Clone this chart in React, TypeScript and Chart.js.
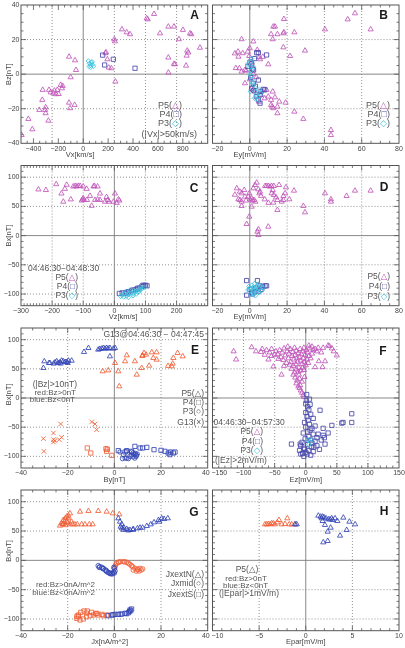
import React, { useEffect, useRef } from 'react';
import { Chart, registerables } from 'chart.js';
Chart.register(...registerables);

type Pt = [number, number];

// ---------------- data ----------------
const A_P5: Pt[] = [[569,34.8],[518,31.7],[510,32.3],[311,25.9],[349,24.2],[376,23.1],[250,20.2],[255,19],[183,12.6],[178,12.1],[-114,10.1],[-66,8],[194,8.6],[226,3.4],[205,3.8],[258,-4.3],[617,23.6],[684,27.5],[729,27.5],[801,25.6],[858,23.6],[868,23.1],[769,20.2],[938,15.3],[836,13.6],[844,12.5],[831,10.7],[684,9.6],[729,5.9],[737,5.7],[826,4.9],[684,0.9],[-58,2.4],[-101,-1.8],[-181,-6.2],[-165,-6.8],[-171,-8.2],[-208,-9.1],[-232,-9.5],[-275,-9.1],[-326,-9.1],[-240,-11.1],[-219,-11.6],[-262,-10.5],[-197,-11.5],[-329,-14.9],[-302,-19.2],[-307,-20.7],[-302,-22.6],[-353,-20.7],[-280,-26.9],[-409,-31.9],[-441,-25.9],[-495,-35.2],[-114,-16.5],[-106,-19.7],[-69,-17.8]];
const A_P4: Pt[] = [[156,11],[242,8.6],[172,5.3],[416,3.4]];
const A_P3: Pt[] = [[41,7.6],[50,6.2],[58,5.2],[66,6.8],[74,5.6],[82,4.6],[48,4.4],[60,4],[70,7.2]];

const B_P5: Pt[] = [[56.4,35.2],[52.5,31.7],[64.8,25.9],[40.3,25.9],[12.6,27.5],[13.5,27.5],[18.3,31.9],[11.4,23.1],[14.8,23.1],[18,23.6],[18.3,24.2],[23.9,24.2],[12.3,20.2],[-4.4,20.2],[1.9,18.9],[-1.1,13],[-6.3,13],[-3.8,12.1],[-6.1,10.1],[-0.3,10.5],[18,15.5],[29.6,13.6],[21.6,10.5],[9.9,5.7],[5.5,8.6],[5.1,9.8],[-5.6,3.4],[-4.4,1.5],[-2.6,2.4],[1,6.7],[-2.6,-5.3],[1,-8.2],[1.9,-9.1],[2.8,-10.1],[9,-9.1],[12.3,-10.1],[9.9,-13],[11.4,-14.9],[13.5,-13.4],[15.8,-15.9],[19.2,-16.5],[11.4,-17.8],[12,-18.8],[12.6,-19.7],[14.8,-18.8],[14.8,-22.6],[23.9,-21.7],[28.7,-25.9],[43.5,-32.3],[43.5,-35.2],[1.9,0.1],[3.5,-1.8],[-7.5,3.5],[-8,12],[7,10],[4,14],[0,15],[-2,2],[0,-3],[6,-12],[8,-14],[5,-16]];
const B_P4: Pt[] = [[3.7,12.4],[4.6,12.4],[9,11.1],[0.1,7],[1,6],[-1,4.5],[2,2.4],[4.6,-3.4],[1.9,-5.3],[1,-8.2],[7.2,-8.8],[8,-9.1],[5.5,-12],[4.6,-14.9],[5.5,-16.8],[2,-9.5],[3,-7],[3.5,-13],[1.5,3],[2.5,9],[0.5,-2],[6,-10]];
const B_P3: Pt[] = [[0,4],[0.5,2],[-1,6],[1,-1],[2,-6],[2.8,-10],[3.7,-12],[4.5,-15],[6,-11],[0.3,-10],[1.5,-5],[2,4],[1,9],[0,0],[3,-8],[4,-13],[5,-9],[2.5,-14],[1.2,-3],[0.6,7]];

const C_P5: Pt[] = [[-244,79],[-220,78],[-187,88],[-164,58],[-153,87],[-159,80],[-132,84],[-116,85],[-126,85],[-121,84],[-110,85],[-100,84],[-89,80],[-67,84],[-64,85],[-54,84],[-78,68],[-73,51],[-102,62],[-100,64],[-97,61],[-88,61],[-62,61],[-54,62],[-46,61],[-25,66],[-21,61],[-30,58],[-17,58],[2,72],[13,62],[16,60],[7.5,56],[-3,58],[-46,72],[-170,72],[-140,62],[-105,60]];
const C_P4: Pt[] = [[16,-99],[25,-98],[40,-97],[45,-96],[55,-94],[62,-93],[70,-92],[80,-90],[88,-87],[95,-86],[100,-85],[105,-86],[92,-85],[35,-99],[75,-90]];
const C_P3: Pt[] = [[20,-104],[25,-102],[30,-105],[35,-100],[40,-103],[45,-101],[50,-99],[55,-98],[60,-100],[65,-96],[70,-95],[75,-97],[80,-93],[85,-92],[90,-90],[30,-100],[45,-106],[60,-103],[70,-100],[80,-96],[52,-93],[38,-96],[62,-94],[85,-88],[95,-89]];

const D_P5: Pt[] = [[3.7,90.6],[2.8,86.6],[-7,80.9],[-5.3,75.2],[-4.4,72.4],[-2.6,66.6],[-6.1,62.1],[-5.3,60.9],[-4.4,58.1],[-0.8,66.6],[0.1,62.1],[1,63.8],[1.5,59.8],[2.2,60.9],[-0.3,72.4],[1.9,80.9],[4.6,79.2],[5.5,75.2],[5.1,72.4],[8.2,84.9],[9,84.9],[9.9,84.9],[10.8,83.8],[11.7,84.9],[12.9,84.9],[15.7,86.6],[12.3,78],[11.7,72.4],[12.9,69.5],[14.1,65.5],[14.8,60.9],[12.6,56.4],[17.1,58.1],[18,60.9],[18,67.8],[19.4,82.7],[18.9,72.4],[21.2,62.1],[23.7,76.9],[28.7,50.7],[29.6,39.8],[14.8,43.8],[1,49.5],[-0.3,32.4],[-1.7,19.9],[9.9,15.3],[4.6,10.7],[4.1,6.7],[4.6,1],[-4.4,50.7],[40.3,72.4],[43.5,62.1],[43.5,58.1],[51.9,67.8],[56.4,76.9],[64.8,76.9],[-8,70],[-3,78],[6,68],[3,58],[8,62],[10,56],[-2,60]];
const D_P4: Pt[] = [[-1.7,-77],[4.1,-77],[0.1,-92],[-1.7,-102],[1,-97.6],[5.5,-86],[8.2,-86],[9,-86],[2.8,-96],[7,-88],[3,-90],[1.5,-100],[6,-92],[4.5,-95]];
const D_P3: Pt[] = [[0,-90],[1,-85],[2,-88],[3,-92],[4,-95],[5,-90],[6,-86],[1.5,-98],[-1,-93],[2.5,-82],[4,-86],[0.5,-100],[3,-103],[5,-98],[6.5,-94],[2,-94],[-0.5,-87],[3.5,-88],[1,-91],[7,-89],[4.5,-83],[2,-101]];

const E_P5_BLUE: Pt[] = [[-30.4,51.4],[-30,62.9],[-27.6,60],[-25.4,61.1],[-24.7,62.9],[-24,60],[-22.6,64],[-21.1,61.7],[-19.7,64],[-18.3,64],[-13,78.9],[-11.1,85.7],[-6.9,82.9],[-6.2,84],[-5.4,84.6],[-4.7,85.7],[-4,84.6],[-3.3,85.7],[-2.6,84.6],[-1.9,85.7],[-0.4,84.6],[0.3,85.7],[-1.9,71.4],[-23.3,61.1],[-21.9,62.9],[-20.4,61.7],[-26,59],[-23,59],[-20,60],[-28,60]];
const E_P5_RED: Pt[] = [[0.3,60],[-2.6,47.4],[-5,45.7],[1.7,45.7],[5.3,73.1],[4.6,62.9],[8.8,62.9],[9.6,40],[11.7,51.4],[12.1,73.1],[12.7,77.1],[13.6,74.3],[16,78.3],[16.7,68.6],[18.1,78.3],[18.1,65.7],[14.9,55.4],[25,58.9],[24.6,54.3],[25.3,68.6],[27.1,77.1],[29.3,71.4],[2.1,20],[12,72],[23,55]];
const E_G13_RED: Pt[] = [[-23,-44.6],[-30.4,-69.7],[-26.1,-60],[-26.1,-71.4],[-26.1,-75.4],[-25.4,-73.1],[-23.6,-71.4],[-22.6,-67.4],[-30.2,-91.4],[-9.7,-41],[-8.3,-44.6],[-7.6,-54.3]];
const E_P4_RED: Pt[] = [[-11.6,-85.7],[-10.1,-94.3],[-3.6,-86.9],[-3.3,-91.4],[-1.1,-98.3],[-3,-88]];
const E_P4_BLUE: Pt[] = [[1.7,-90.3],[4.6,-92.6],[5.3,-90.3],[7.4,-91.4],[8.8,-82.9],[11,-85.7],[12.1,-85.7],[13.9,-84.6],[17,-88.6],[20,-89.7],[21.7,-91.4],[23.1,-94.3],[23.8,-97.1],[25.3,-94.3],[26,-92.6],[24.1,-92.6]];
const E_P3_BLUE: Pt[] = [[3.9,-97],[4.6,-103],[5.3,-103],[6.7,-100],[7.4,-97],[8.1,-94],[8.8,-97],[8.8,-103],[9.3,-100],[5.3,-91],[7.4,-92.6],[2.4,-92.6],[9,-95],[3.5,-104],[6,-104],[9.5,-98],[8,-101],[9.8,-96]];

const F_P5: Pt[] = [[-116,80],[-112,66],[-87,87],[-72,79],[-63,82],[-60,66],[-55,72],[-52,54],[-39,40],[36,90],[38,89],[50,73],[31,63],[21,63],[15,53],[27,53],[45,80],[42,85],[25,78],[28,86],[10,88],[5,90],[-48,80],[-45,75],[-42,82],[-40,70],[-38,78],[-36,65],[-35,85],[-33,73],[-31,60],[-30,80],[-28,68],[-27,76],[-25,84],[-24,62],[-22,72],[-21,79],[-20,55],[-19,66],[-18,86],[-17,74],[-16,58],[-15,81],[-14,68],[-13,62],[-12,77],[-11,52],[-10,70],[-9,84],[-8,64],[-7,75],[-6,58],[-5,80],[-4,68],[-3,86],[-2,62],[-1,74],[0,56],[1,82],[2,66],[3,78],[4,60],[5,72],[6,85],[8,68],[10,76],[12,82],[-26,57],[-29,88],[-44,67],[-50,74],[-55,84],[-58,78],[-66,74],[-35,55],[-23,50],[-15,49],[-8,47],[-5,52],[-12,45],[-3,48],[15,84],[18,80],[20,86],[-70,84],[-80,80],[-20,40],[-17,35],[-14,30],[-15,25],[-12,20],[-10,17],[-8,13],[-9,22],[-6,9],[-4,5],[-3,2],[-6,28],[-10,33],[-2,36],[-18,44],[-11,40]];
const F_P4: Pt[] = [[1.5,6],[1,-4],[7,-11],[23,-21],[74,-27],[60,-42],[58,-43],[74,-42],[42,-47],[36,-60],[28,-52],[-23,-79],[-9,-79],[-8,-82],[-3,-86],[2,-96],[10,-77],[13,-84],[31,-79],[28,-64],[20,-62],[7,-55],[3,-15],[5,-20],[0,-25],[8,-28],[2,-32],[12,-35],[4,-38],[-2,-42],[6,-45],[15,-48],[0,-50],[10,-52],[3,-58],[-4,-60],[12,-62],[5,-66],[18,-68],[-1,-70],[8,-72],[15,-74],[-6,-76],[3,-80],[9,-84],[-2,-88],[5,-90],[0,-93],[-5,-95],[8,-98],[12,-92],[22,-88],[-10,-90],[18,-82],[25,-72],[30,-68],[-3,-100],[-8,-96],[0,-10],[6,-2]];
const F_P3: Pt[] = [[7,-75],[10,-71],[5,-80],[3,-72]];

const G_N_RED: Pt[] = [[-23.3,59.2],[-22.1,61.4],[-21.4,66],[-21,71.7],[-20.4,74.5],[-19.7,71.7],[-19,61.4],[-17.9,61.4],[-16.9,61.4],[-15.9,61.4],[-14,61.4],[-12.6,61.4],[-10.7,61.4],[-9.3,61.4],[-20.4,66],[-21.9,68.8],[-19.7,76.2],[-19,80.2],[-14.7,83],[-11.1,84.2],[-6.9,84.2],[-3.3,83],[-0.7,80.2],[2.1,78.5],[-22.6,63.1],[-18.3,66],[-22,62],[-20,64],[-21,60]];
const G_N_BLUE: Pt[] = [[1.7,71.7],[2.4,66],[2.7,57.4],[3.2,54.6],[4.1,55.7],[5.3,53.5],[6.7,51.8],[8.1,53.5],[9.9,54.6],[11,55.7],[12.1,55.7],[13.9,58.6],[15.6,61.4],[17,64.8],[18.9,68.8],[20.3,71.7],[21.3,70.5],[22.9,71.7],[19.3,66],[3.2,61.4],[4,52],[6,51],[8,52]];
const G_MID_BLUE: Pt[] = [[-6.9,-9.1],[-6.2,-10.8],[-5.4,-11.9],[-4.7,-13.6],[-4,-16.5],[-3.3,-19.3],[-2.6,-20.5],[-1.9,-22.1],[-1.1,-22.1],[-0.4,-20.5],[0.3,-18],[0,-14],[-0.2,-12],[-6.5,-12],[-5,-14],[-3.5,-17],[-2.2,-21.5],[-1.5,-23],[-0.8,-23],[0,-21.5]];
const G_MID_RED: Pt[] = [[0.3,-10.8],[1,-5],[1.7,-3.4],[2.7,-2.3],[3.9,-2.3],[5.3,-3.4],[6.7,-6.8],[7.8,-10.8],[8.8,-13.6],[9.9,-14.7],[11,-13.6],[12.1,-14.7],[10.6,-18.2],[9.4,-18.2],[8.1,-16.5],[0.5,-8],[2,-3],[4.5,-2.5],[7.3,-9],[11.5,-16.5],[10,-16],[6,-5]];
const G_S_RED: Pt[] = [[-16.1,-98.9],[-15.4,-93.2],[-14.4,-88.7],[-13,-86.4],[-11.6,-86.4],[-9.7,-88.7],[-7.6,-90.4],[-5.4,-92.1],[-3.3,-93.2],[-14.7,-101.7],[-13.3,-100],[-11.9,-96.1],[-10.4,-94.4],[-9,-93.2],[-6.9,-93.2],[-4.7,-94.4],[-15.4,-96.1],[-12,-90],[-8,-91],[-16,-95]];
const G_S_BLUE: Pt[] = [[-2.6,-94.4],[-1.1,-93.2],[0.3,-92.1],[1.7,-92.1],[3.2,-91.5],[4.6,-90.4],[6,-89.3],[6.7,-84.6],[7.4,-83],[6.4,-87.5],[5.3,-91],[7,-86],[-0.5,-93],[2.5,-92]];

const H_RED: Pt[] = [[-4.37,61.4],[-4.19,61.4],[-4.01,62],[-3.83,61.4],[-3.66,63.1],[-3.48,63.1],[-3.3,61.4],[-3.05,64.8],[-2.87,68.8],[-2.58,61.4],[-2.23,62],[-1.98,71.7],[-1.77,61.4],[-1.51,61.4],[-1.15,61.4]];
const H_BLUE: Pt[] = [[-1.15,61.4],[-0.97,61.4],[1.35,76.2],[1.6,74.5],[1.81,74.5],[1.96,73.4],[2.17,71.7],[2.42,69.9],[2.6,69.9],[2.89,68.8],[3.14,71.7],[3.39,67.1],[4.03,72.8],[4.68,66],[5.29,61.4],[2.06,60.3],[2.67,55.7],[2.35,48.9],[3.68,42.1],[1.88,30.7],[2.35,33],[4.39,51.8],[1.7,71.7],[1.81,67.1],[2.78,71.7]];

// tick labels
const X_A = [-400, -200, 0, 200, 400, 600, 800];
const Y_A = [-40, -20, 0, 20, 40];
const X_EY = [-20, 0, 20, 40, 60, 80];
const X_C = [-300, -200, -100, 0, 100, 200];
const Y_BX = [-100, -50, 0, 50, 100];
const X_E = [-40, -20, 0, 20, 40];
const X_F = [-150, -100, -50, 0, 50, 100, 150];
const X_H = [-10, -5, 0, 5, 10];

// ---------------- styling ----------------
const W = 405, H = 648;
const PURPLE = 'rgb(192,86,186)';
const NAVY = 'rgb(72,72,172)';
const CYAN = 'rgb(60,195,222)';
const RED = 'rgb(240,96,56)';
const BLUE = 'rgb(52,70,182)';
const TXT = '#555';
const FONT = "'Liberation Sans', 'DejaVu Sans', Arial, sans-serif";

type Series = { data: Pt[]; style: string; color: string; r: number };
type Seg = [string, string?];
type Txt = { segs: Seg[]; x: number; y: number; align: 'left' | 'right' | 'center'; size: number };
type Panel = {
  box: [number, number, number, number];
  x: [number, number]; y: [number, number];
  xLabels: number[]; yLabels: number[]; showY: boolean; rightCol: boolean;
  xMinor: number; yMinor: number; gx: number[]; gy: number[];
  xTitle: string; xTitleAt: number; yTitle: string; yTitleAt: number;
  letter: string; lx: number; ly: number;
  series: Series[]; texts: Txt[];
};

const tri = (c: string) => ['△', c] as Seg;
const sq = (c: string) => ['□', c] as Seg;
const dia = (c: string) => ['◇', c] as Seg;
const legend = (name: string, sym: Seg, x: number, y: number, align: 'left' | 'right' | 'center' = 'right', size = 8.5): Txt =>
  ({ segs: [[name + '('], sym, [')']], x, y, align, size });
const plain = (s: string, x: number, y: number, align: 'left' | 'right' | 'center', size = 8.5): Txt =>
  ({ segs: [[s]], x, y, align, size });

const LEFT = [21, 207.7];
const RIGHT = [212.5, 399];
const ROWS = [[5, 143.3], [165.5, 305.7], [328, 468], [490, 630.7]];
const GY_BX = [-100, -50, 50, 100];

const PANELS: Panel[] = [
  {
    box: [LEFT[0], ROWS[0][0], LEFT[1], ROWS[0][1]], x: [-500, 1000], y: [-40, 40],
    xLabels: X_A, yLabels: Y_A, showY: true, rightCol: false, xMinor: 50, yMinor: 5,
    gx: [-250, 250, 500, 750], gy: [-20, 20], xTitle: 'Vx[km/s]', xTitleAt: -25, yTitle: 'Bz[nT]', yTitleAt: 0,
    letter: 'A', lx: 194.5, ly: 16,
    series: [{ data: A_P3, style: 'rectRot', color: CYAN, r: 2.3 }, { data: A_P4, style: 'rect', color: NAVY, r: 3 }, { data: A_P5, style: 'triangle', color: PURPLE, r: 3 }],
    texts: [legend('P5', tri(PURPLE), 182, 106, 'right', 9), legend('P4', sq(NAVY), 182, 115, 'right', 9), legend('P3', dia(CYAN), 182, 124, 'right', 9), plain('(|Vx|>50km/s)', 197, 135, 'right', 9)],
  },
  {
    box: [RIGHT[0], ROWS[0][0], RIGHT[1], ROWS[0][1]], x: [-20, 80], y: [-40, 40],
    xLabels: X_EY, yLabels: Y_A, showY: false, rightCol: true, xMinor: 5, yMinor: 5,
    gx: [20, 40, 60], gy: [-20, 20], xTitle: 'Ey[mV/m]', xTitleAt: 0, yTitle: '', yTitleAt: 0,
    letter: 'B', lx: 383.5, ly: 16,
    series: [{ data: B_P3, style: 'rectRot', color: CYAN, r: 2.3 }, { data: B_P4, style: 'rect', color: NAVY, r: 3 }, { data: B_P5, style: 'triangle', color: PURPLE, r: 3 }],
    texts: [legend('P5', tri(PURPLE), 390, 106, 'right', 9), legend('P4', sq(NAVY), 390, 115, 'right', 9), legend('P3', dia(CYAN), 390, 124, 'right', 9)],
  },
  {
    box: [LEFT[0], ROWS[1][0], LEFT[1], ROWS[1][1]], x: [-300, 300], y: [-120, 120],
    xLabels: X_C, yLabels: Y_BX, showY: true, rightCol: false, xMinor: 10, yMinor: 10,
    gx: [-200, -100, 100, 200], gy: GY_BX, xTitle: 'Vz[km/s]', xTitleAt: 28, yTitle: 'Bx[nT]', yTitleAt: 0,
    letter: 'C', lx: 194, ly: 188.5,
    series: [{ data: C_P3, style: 'rectRot', color: CYAN, r: 2.3 }, { data: C_P4, style: 'rect', color: NAVY, r: 3 }, { data: C_P5, style: 'triangle', color: PURPLE, r: 3 }],
    texts: [plain('04:46:30−04:48:30', 28, 268.5, 'left'), legend('P5', tri(PURPLE), 78, 277.5), legend('P4', sq(NAVY), 78, 286.5), legend('P3', dia(CYAN), 78, 296)],
  },
  {
    box: [RIGHT[0], ROWS[1][0], RIGHT[1], ROWS[1][1]], x: [-20, 80], y: [-120, 120],
    xLabels: X_EY, yLabels: Y_BX, showY: false, rightCol: true, xMinor: 5, yMinor: 10,
    gx: [20, 40, 60], gy: GY_BX, xTitle: 'Ey[mV/m]', xTitleAt: 0, yTitle: '', yTitleAt: 0,
    letter: 'D', lx: 384, ly: 187.5,
    series: [{ data: D_P3, style: 'rectRot', color: CYAN, r: 2.3 }, { data: D_P4, style: 'rect', color: NAVY, r: 3 }, { data: D_P5, style: 'triangle', color: PURPLE, r: 3 }],
    texts: [legend('P5', tri(PURPLE), 390, 277), legend('P4', sq(NAVY), 390, 287), legend('P3', dia(CYAN), 390, 296.5)],
  },
  {
    box: [LEFT[0], ROWS[2][0], LEFT[1], ROWS[2][1]], x: [-40, 40], y: [-120, 120],
    xLabels: X_E, yLabels: Y_BX, showY: true, rightCol: false, xMinor: 5, yMinor: 10,
    gx: [-20, 20], gy: GY_BX, xTitle: 'By[nT]', xTitleAt: 0, yTitle: 'Bx[nT]', yTitleAt: 6,
    letter: 'E', lx: 195, ly: 350.5,
    series: [
      { data: E_P3_BLUE, style: 'circle', color: BLUE, r: 2.2 },
      { data: E_P4_BLUE, style: 'rect', color: BLUE, r: 3 },
      { data: E_P4_RED, style: 'rect', color: RED, r: 3 },
      { data: E_G13_RED, style: 'crossRot', color: RED, r: 3.2 },
      { data: E_P5_BLUE, style: 'triangle', color: BLUE, r: 3 },
      { data: E_P5_RED, style: 'triangle', color: RED, r: 3 },
    ],
    texts: [
      plain('G13@04:46:30 − 04:47:45', 204, 334.5, 'right'),
      plain('(|Bz|>10nT)', 77, 385, 'right'), plain('red:Bz>0nT', 76, 392.5, 'right', 8), plain('blue:Bz<0nT', 75, 399.5, 'right', 8),
      plain('P5(△)', 204, 394, 'right'), plain('P4(□)', 204, 403, 'right'), plain('P3(○)', 204, 412, 'right'), plain('G13(×)', 204, 423, 'right'),
    ],
  },
  {
    box: [RIGHT[0], ROWS[2][0], RIGHT[1], ROWS[2][1]], x: [-150, 150], y: [-120, 120],
    xLabels: X_F, yLabels: Y_BX, showY: false, rightCol: true, xMinor: 10, yMinor: 10,
    gx: [-100, -50, 50, 100], gy: GY_BX, xTitle: 'Ez[mV/m]', xTitleAt: 0, yTitle: '', yTitleAt: 0,
    letter: 'F', lx: 383, ly: 351.5,
    series: [{ data: F_P3, style: 'rectRot', color: CYAN, r: 2.3 }, { data: F_P4, style: 'rect', color: NAVY, r: 3 }, { data: F_P5, style: 'triangle', color: PURPLE, r: 3 }],
    texts: [plain('04:46:30−04:57:30', 213.5, 423, 'left'), legend('P5', tri(PURPLE), 263, 432), legend('P4', sq(NAVY), 263, 442), legend('P3', dia(CYAN), 263, 451), plain('(|Ez|>2mV/m)', 215, 461, 'left')],
  },
  {
    box: [LEFT[0], ROWS[3][0], LEFT[1], ROWS[3][1]], x: [-40, 40], y: [-120, 120],
    xLabels: X_E, yLabels: Y_BX, showY: true, rightCol: false, xMinor: 5, yMinor: 10,
    gx: [-20, 20], gy: GY_BX, xTitle: 'Jx[nA/m^2]', xTitleAt: -2, yTitle: 'Bx[nT]', yTitleAt: 16,
    letter: 'G', lx: 194, ly: 512.5,
    series: [
      { data: G_S_BLUE, style: 'rect', color: BLUE, r: 3 },
      { data: G_S_RED, style: 'rect', color: RED, r: 3 },
      { data: G_MID_BLUE, style: 'circle', color: BLUE, r: 2.3 },
      { data: G_MID_RED, style: 'circle', color: RED, r: 2.3 },
      { data: G_N_BLUE, style: 'triangle', color: BLUE, r: 3 },
      { data: G_N_RED, style: 'triangle', color: RED, r: 3 },
    ],
    texts: [
      plain('JxextN(△)', 204, 574.5, 'right'), plain('Jxmid(○)', 204, 584, 'right'), plain('JxextS(□)', 204, 594.3, 'right'),
      plain('red:Bz>0nA/m^2', 95, 585, 'right', 8), plain('blue:Bz<0nA/m^2', 95, 592.5, 'right', 8),
    ],
  },
  {
    box: [RIGHT[0], ROWS[3][0], RIGHT[1], ROWS[3][1]], x: [-10, 10], y: [-120, 120],
    xLabels: X_H, yLabels: Y_BX, showY: false, rightCol: true, xMinor: 1, yMinor: 10,
    gx: [-5, 5], gy: GY_BX, xTitle: 'Epar[mV/m]', xTitleAt: 0, yTitle: '', yTitleAt: 0,
    letter: 'H', lx: 384, ly: 512,
    series: [{ data: H_BLUE, style: 'triangle', color: BLUE, r: 3 }, { data: H_RED, style: 'triangle', color: RED, r: 3 }],
    texts: [
      plain('P5(△)', 247, 569.5, 'center', 8.5), plain('red:Bz>0nT', 246, 578.3, 'center', 8),
      plain('blue:Bz<0nT', 245.5, 585.7, 'center', 8), plain('(|Epar|>1mV/m)', 249, 593.5, 'center', 8.5),
    ],
  },
];

// ---------------- drawing helpers ----------------
function multiples(min: number, max: number, step: number): number[] {
  const out: number[] = [];
  const s = Math.ceil(min / step - 1e-9);
  for (let k = s; k * step <= max + 1e-9; k++) out.push(+(k * step).toFixed(6));
  return out;
}
const fmt = (v: number) => (v < 0 ? '−' + Math.abs(v) : String(v));

function drawTxt(ctx: CanvasRenderingContext2D, t: Txt) {
  ctx.font = `${t.size}px ${FONT}`;
  ctx.textBaseline = 'middle';
  ctx.textAlign = 'left';
  const ws = t.segs.map((s) => ctx.measureText(s[0]).width);
  const total = ws.reduce((a, b) => a + b, 0);
  let x = t.align === 'left' ? t.x : t.align === 'right' ? t.x - total : t.x - total / 2;
  t.segs.forEach((s, i) => {
    ctx.fillStyle = s[1] || TXT;
    ctx.fillText(s[0], x, t.y);
    x += ws[i];
  });
}

function makePlugin(p: Panel) {
  return {
    id: 'idlframe',
    beforeDatasetsDraw(chart: any) {
      const { ctx, chartArea: ca, scales } = chart;
      const xs = scales.x, ys = scales.y;
      ctx.save();
      ctx.strokeStyle = '#777';
      ctx.lineWidth = 0.8;
      ctx.setLineDash([1, 2]);
      p.gx.forEach((v) => {
        const px = xs.getPixelForValue(v);
        ctx.beginPath(); ctx.moveTo(px, ca.top); ctx.lineTo(px, ca.bottom); ctx.stroke();
      });
      p.gy.forEach((v) => {
        const py = ys.getPixelForValue(v);
        ctx.beginPath(); ctx.moveTo(ca.left, py); ctx.lineTo(ca.right, py); ctx.stroke();
      });
      ctx.setLineDash([]);
      ctx.strokeStyle = '#7a7a7a';
      ctx.lineWidth = 0.9;
      const x0 = xs.getPixelForValue(0), y0 = ys.getPixelForValue(0);
      ctx.beginPath(); ctx.moveTo(x0, ca.top); ctx.lineTo(x0, ca.bottom); ctx.stroke();
      ctx.beginPath(); ctx.moveTo(ca.left, y0); ctx.lineTo(ca.right, y0); ctx.stroke();
      ctx.restore();
    },
    afterDraw(chart: any) {
      const { ctx, chartArea: ca, scales } = chart;
      const xs = scales.x, ys = scales.y;
      ctx.save();
      ctx.strokeStyle = '#555';
      ctx.lineWidth = 1;
      ctx.strokeRect(ca.left, ca.top, ca.right - ca.left, ca.bottom - ca.top);
      ctx.lineWidth = 0.8;
      const edge = (v: number, lo: number, hi: number) => Math.abs(v - lo) < 1e-6 || Math.abs(v - hi) < 1e-6;
      const xMaj = p.xLabels.filter((v) => !edge(v, p.x[0], p.x[1]));
      const yMaj = p.yLabels.filter((v) => !edge(v, p.y[0], p.y[1]));
      const xMin = multiples(p.x[0], p.x[1], p.xMinor).filter((v) => !edge(v, p.x[0], p.x[1]) && !p.xLabels.includes(v));
      const yMin = multiples(p.y[0], p.y[1], p.yMinor).filter((v) => !edge(v, p.y[0], p.y[1]) && !p.yLabels.includes(v));
      const tx = (v: number, len: number) => {
        const px = xs.getPixelForValue(v);
        ctx.beginPath();
        ctx.moveTo(px, ca.bottom); ctx.lineTo(px, ca.bottom - len);
        ctx.moveTo(px, ca.top); ctx.lineTo(px, ca.top + len);
        ctx.stroke();
      };
      const ty = (v: number, len: number) => {
        const py = ys.getPixelForValue(v);
        ctx.beginPath();
        ctx.moveTo(ca.left, py); ctx.lineTo(ca.left + len, py);
        ctx.moveTo(ca.right, py); ctx.lineTo(ca.right - len, py);
        ctx.stroke();
      };
      xMaj.forEach((v) => tx(v, 5));
      xMin.forEach((v) => tx(v, 2.5));
      yMaj.forEach((v) => ty(v, 5));
      yMin.forEach((v) => ty(v, 2.5));
      ctx.fillStyle = '#444';
      ctx.font = `7px ${FONT}`;
      ctx.textBaseline = 'middle';
      ctx.textAlign = 'center';
      p.xLabels.forEach((v, i) => {
        const s = fmt(v);
        const w = ctx.measureText(s).width;
        let cx = xs.getPixelForValue(v);
        if (p.rightCol && i === 0) cx = Math.max(cx, ca.left - 1 + w / 2);
        if (!p.rightCol && i === p.xLabels.length - 1) cx = Math.min(cx, ca.right + 2 - w / 2);
        ctx.fillText(s, cx, ca.bottom + 5.5);
      });
      if (p.showY) {
        ctx.textAlign = 'right';
        p.yLabels.forEach((v) => ctx.fillText(fmt(v), ca.left - 1.5, ys.getPixelForValue(v)));
      }
      ctx.fillStyle = '#444';
      ctx.font = `7.5px ${FONT}`;
      ctx.textAlign = 'center';
      ctx.fillText(p.xTitle, xs.getPixelForValue(p.xTitleAt), ca.bottom + 11.5);
      if (p.yTitle) {
        ctx.save();
        ctx.translate(9, ys.getPixelForValue(p.yTitleAt));
        ctx.rotate(-Math.PI / 2);
        ctx.fillText(p.yTitle, 0, 0);
        ctx.restore();
      }
      p.texts.forEach((t) => drawTxt(ctx, t));
      ctx.fillStyle = '#1a1a1a';
      ctx.font = `bold 12px ${FONT}`;
      ctx.textAlign = 'center';
      ctx.textBaseline = 'middle';
      ctx.fillText(p.letter, p.lx, p.ly);
      ctx.restore();
    },
  };
}

function PanelChart({ p }: { p: Panel }) {
  const ref = useRef<HTMLCanvasElement>(null);
  useEffect(() => {
    const [l, t, r, b] = p.box;
    const chart = new Chart(ref.current as HTMLCanvasElement, {
      type: 'scatter',
      data: {
        datasets: p.series.map((s) => ({
          data: s.data.map(([x, y]) => ({ x, y })),
          pointStyle: s.style as any,
          pointRadius: s.r,
          pointHoverRadius: s.r,
          pointBorderWidth: 0.85,
          borderWidth: 0.85,
          borderColor: s.color,
          pointBorderColor: s.color,
          backgroundColor: 'rgba(0,0,0,0)',
          pointBackgroundColor: 'rgba(0,0,0,0)',
          showLine: false,
        })),
      },
      options: {
        animation: false,
        responsive: false,
        devicePixelRatio: 1,
        events: [],
        layout: { padding: { left: l, top: t, right: W - r, bottom: H - b } },
        plugins: { legend: { display: false }, tooltip: { enabled: false }, title: { display: false } },
        scales: {
          x: { type: 'linear', display: false, min: p.x[0], max: p.x[1] },
          y: { type: 'linear', display: false, min: p.y[0], max: p.y[1] },
        },
      } as any,
      plugins: [makePlugin(p)],
    });
    return () => chart.destroy();
  }, [p]);
  return <canvas ref={ref} width={W} height={H} style={{ position: 'absolute', left: 0, top: 0, width: W, height: H }} />;
}

export default function App() {
  return (
    <div style={{ position: 'absolute', left: 0, top: 0, width: W, height: H, background: '#fff', overflow: 'hidden' }}>
      {PANELS.map((p) => (
        <PanelChart key={p.letter} p={p} />
      ))}
    </div>
  );
}
